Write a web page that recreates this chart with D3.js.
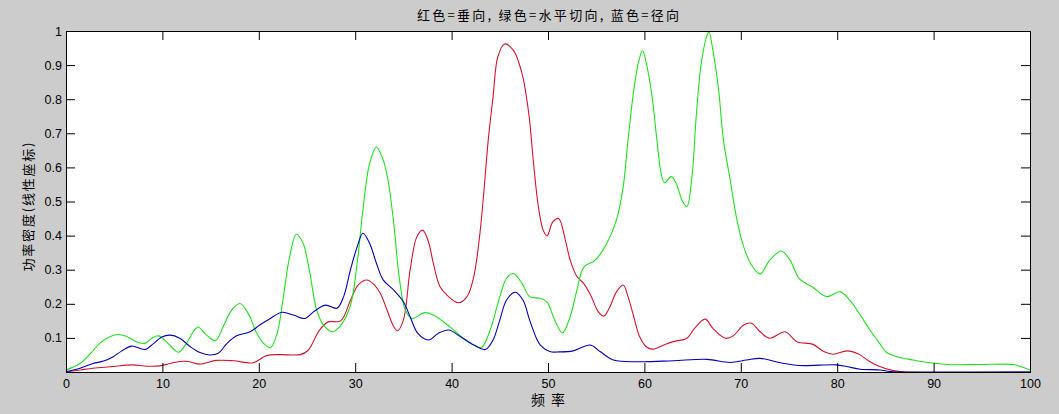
<!DOCTYPE html>
<html><head><meta charset="utf-8">
<script src="https://cdn.jsdelivr.net/npm/d3@7/dist/d3.min.js"></script>
<style>body{margin:0;background:#cccccc;} svg{display:block;}</style>
</head><body>
<svg id="chart" width="1059" height="414"></svg>
<script>
const titleText = "红色=垂向, 绿色=水平切向, 蓝色=径向";
const xLabel = "频 率";
const yLabel = "功率密度(线性座标)";
const xTicks = [0,10,20,30,40,50,60,70,80,90,100];
const yTicks = [0.1,0.2,0.3,0.4,0.5,0.6,0.7,0.8,0.9,1];
const yTickLabels = ["0.1","0.2","0.3","0.4","0.5","0.6","0.7","0.8","0.9","1"];

// 红色 = 垂向
const redX = [0,1.5,2.8,4.9,6.8,8.4,9.75,10.8,11.8,12.7,13.9,15.6,17.4,19.4,20.8,22.2,24.3,25.1,26.3,27.2,28.5,29.5,30.3,31.2,32.0,32.6,33.3,34.0,34.4,35.0,35.7,36.4,37.0,37.6,38.1,38.8,39.5,40.7,41.6,42.3,42.9,43.3,43.8,44.3,44.8,45.5,46.4,47.3,48.0,48.5,49.0,49.5,49.9,50.5,51.1,51.8,52.3,53.0,53.7,54.5,55.2,55.8,56.4,57.1,57.8,58.3,58.9,59.5,60.2,60.9,62.0,63.0,64.4,65.2,66.3,67.1,68.4,69.2,70.3,71.1,72.0,73.0,74.6,75.8,77.5,78.6,79.6,81.0,82.2,83.4,84.4,85.8,87,100];
const redY = [0,0.006,0.011,0.016,0.021,0.017,0.018,0.025,0.031,0.031,0.023,0.034,0.033,0.027,0.048,0.051,0.051,0.063,0.123,0.147,0.15,0.21,0.255,0.27,0.255,0.231,0.182,0.133,0.121,0.152,0.30,0.397,0.416,0.382,0.319,0.25,0.226,0.203,0.221,0.28,0.397,0.514,0.68,0.807,0.925,0.962,0.944,0.876,0.759,0.612,0.485,0.416,0.399,0.44,0.45,0.387,0.328,0.28,0.26,0.221,0.177,0.164,0.19,0.235,0.255,0.221,0.162,0.104,0.074,0.067,0.079,0.089,0.099,0.128,0.155,0.128,0.099,0.106,0.138,0.143,0.118,0.099,0.118,0.089,0.081,0.06,0.052,0.062,0.053,0.03,0.016,0.004,0,0];

// 绿色 = 水平切向
const greenX = [0,1.45,2.5,3.5,4.6,5.4,6.3,7.3,8.2,8.9,9.6,10.4,11.65,12.5,13.2,13.7,14.6,15.5,16.3,17.2,18.05,18.9,19.8,20.5,21.2,21.9,22.5,23.2,23.9,24.6,25.3,26.0,26.7,27.6,28.4,29.5,30.2,30.8,31.5,32.2,32.9,33.4,34.0,34.6,35.2,35.9,37.2,38.1,39.8,41.2,42.3,43.1,44.0,45.0,45.7,46.4,47.3,48.1,49.2,49.9,50.7,51.5,52.3,53.0,53.7,54.9,56.1,57.1,57.8,58.3,58.9,59.4,59.8,60.2,60.8,61.3,61.8,62.1,62.8,63.3,63.9,64.4,64.9,65.4,65.9,66.5,66.7,67.1,67.7,68.2,68.9,69.6,70.3,71.0,72.0,73.0,74.2,75.1,76.1,77.5,78.9,80.3,81.3,82.4,83.4,84.4,85.1,86.2,87.9,89.6,91.4,94.8,98.3,99.0,100];
const greenY = [0.006,0.025,0.053,0.084,0.104,0.11,0.104,0.089,0.084,0.099,0.106,0.089,0.058,0.084,0.118,0.132,0.108,0.092,0.133,0.182,0.201,0.172,0.113,0.084,0.071,0.113,0.211,0.338,0.404,0.377,0.289,0.182,0.138,0.118,0.133,0.195,0.319,0.475,0.612,0.659,0.622,0.563,0.436,0.27,0.182,0.157,0.174,0.167,0.133,0.099,0.079,0.072,0.123,0.221,0.275,0.289,0.26,0.221,0.216,0.205,0.152,0.115,0.162,0.24,0.307,0.328,0.377,0.446,0.543,0.68,0.827,0.91,0.942,0.905,0.807,0.68,0.573,0.555,0.573,0.553,0.504,0.485,0.563,0.759,0.905,0.988,0.998,0.944,0.827,0.68,0.563,0.446,0.367,0.319,0.287,0.328,0.355,0.328,0.273,0.248,0.221,0.235,0.211,0.167,0.123,0.084,0.058,0.045,0.035,0.027,0.022,0.022,0.022,0.016,0.006];

// 蓝色 = 径向
const blueX = [0,1.45,2.8,3.9,4.9,5.8,6.8,8.2,9.1,9.9,10.8,11.8,12.9,13.9,14.9,15.8,16.7,17.7,19.1,20.1,21.2,22.4,23.6,24.8,25.7,26.9,28.1,28.8,29.5,30.2,30.8,31.5,32.2,32.9,34.0,35.0,35.7,36.5,37.6,38.6,39.7,40.9,42.3,43.5,44.3,45.0,45.7,46.6,47.4,48.1,48.8,49.2,50.2,51.2,52.6,54.4,55.4,56.8,59.5,63.0,66.5,68.9,70.6,72.0,74.1,76.1,79.9,81.0,82.4,84.4,85.5,87,100];
const blueY = [0.001,0.011,0.025,0.032,0.045,0.062,0.076,0.066,0.084,0.102,0.108,0.099,0.074,0.057,0.05,0.055,0.084,0.106,0.118,0.138,0.157,0.175,0.167,0.157,0.177,0.196,0.187,0.221,0.299,0.367,0.407,0.377,0.319,0.27,0.24,0.206,0.162,0.113,0.094,0.113,0.123,0.104,0.079,0.066,0.094,0.152,0.211,0.234,0.211,0.152,0.099,0.079,0.06,0.059,0.062,0.079,0.06,0.035,0.03,0.033,0.037,0.028,0.035,0.04,0.027,0.019,0.021,0.016,0.008,0.006,0.001,0,0];

const seriesList = [
  {xs: redX, ys: redY, color: "#d3142e"},
  {xs: greenX, ys: greenY, color: "#1ee01e"},
  {xs: blueX, ys: blueY, color: "#0000b4"}
];

const svg = d3.select("#chart");
const L = 66, R = 1030, T = 31, B = 372;
const x = d3.scaleLinear().domain([0,100]).range([L, R]);
const y = d3.scaleLinear().domain([0,1]).range([B, T]);
const font = "'Liberation Sans', Arial, 'Noto Sans CJK SC', sans-serif";
const cjk = "'Noto Sans CJK SC', 'Liberation Sans', sans-serif";

svg.append("rect").attr("width",1059).attr("height",414).attr("fill","#cccccc");
svg.append("rect").attr("x",L).attr("y",T).attr("width",R-L).attr("height",B-T).attr("fill","#ffffff");

svg.append("clipPath").attr("id","clip").append("rect")
  .attr("x",L).attr("y",T-1).attr("width",R-L+1).attr("height",B-T+1.5);

const line = d3.line().x(d=>x(d[0])).y(d=>y(d[1])).curve(d3.curveCatmullRom.alpha(0.5));
const g = svg.append("g").attr("clip-path","url(#clip)");
seriesList.forEach(s => {
  const pts = s.xs.map((v,i)=>[v, s.ys[i]]);
  g.append("path").attr("d", line(pts)).attr("fill","none")
    .attr("stroke", s.color).attr("stroke-width",1.1);
});

// axes with inward ticks
const tk = 9;
const axB = d3.axisBottom(x).tickValues(xTicks).tickSizeInner(-tk).tickSizeOuter(0).tickPadding(7);
const axT = d3.axisTop(x).tickValues(xTicks).tickSizeInner(-tk).tickSizeOuter(0).tickFormat("");
const axLft = d3.axisLeft(y).tickValues(yTicks).tickSizeInner(-tk).tickSizeOuter(0).tickPadding(4)
  .tickFormat((d,i)=>yTickLabels[i]);
const axRt = d3.axisRight(y).tickValues(yTicks).tickSizeInner(-tk).tickSizeOuter(0).tickFormat("");

function style(sel){
  sel.select(".domain").remove();
  sel.selectAll("line").attr("stroke","#000").attr("stroke-width",1);
  sel.selectAll("text").attr("fill","#000").style("font-family",font).style("font-size","12.5px");
}
svg.append("g").attr("transform",`translate(0,${B})`).call(axB).call(style);
svg.append("g").attr("transform",`translate(0,${T})`).call(axT).call(style);
svg.append("g").attr("transform",`translate(${L},0)`).call(axLft).call(style);
svg.append("g").attr("transform",`translate(${R},0)`).call(axRt).call(style);

svg.append("rect").attr("x",L+0.5).attr("y",T+0.5).attr("width",R-L).attr("height",B-T)
  .attr("fill","none").attr("stroke","#000").attr("stroke-width",1);

svg.append("text").attr("x",(L+R)/2).attr("y",20).attr("text-anchor","middle")
  .style("font-family",cjk).style("font-size","13px")
  .attr("textLength",262).attr("lengthAdjust","spacing").text(titleText);

svg.append("text").attr("x",(L+R)/2).attr("y",405).attr("text-anchor","middle")
  .style("font-family",cjk).style("font-size","14px")
  .attr("textLength",34).attr("lengthAdjust","spacing").text(xLabel);

svg.append("text").attr("transform",`translate(33,207) rotate(-90)`).attr("text-anchor","middle")
  .style("font-family",cjk).style("font-size","13px")
  .attr("textLength",129).attr("lengthAdjust","spacing").text(yLabel);
</script>
</body></html>
